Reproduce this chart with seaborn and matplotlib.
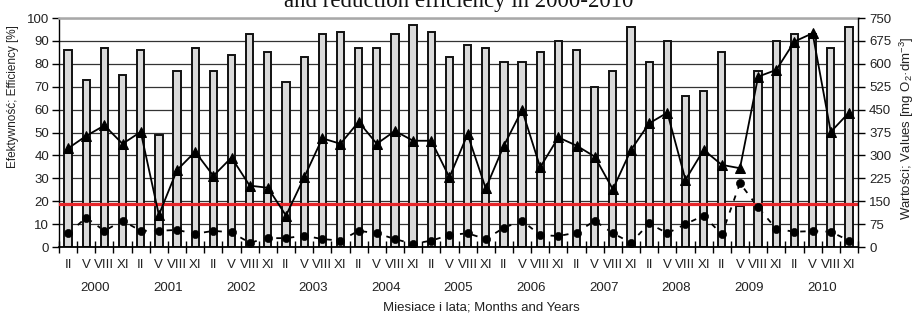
import numpy as np
import pandas as pd
import seaborn as sns
import matplotlib.pyplot as plt
from matplotlib import transforms

# data, one value per quarter (II, V, VIII, XI) 2000-2010
years = [str(y) for y in range(2000, 2011)]
months = ['II', 'V', 'VIII', 'XI']

# reduction efficiency [%] (bars, left axis)
efficiency = [86, 73, 87, 75, 86, 49, 77, 87, 77, 84, 93, 85,
              72, 83, 93, 94, 87, 87, 93, 97, 94, 83, 88, 87,
              81, 81, 85, 90, 86, 70, 77, 96, 81, 90, 66, 68,
              85, 18, 77, 90, 93, 93, 87, 96]

# inflow values [mg O2/dm3] (triangles, right axis)
inflow = [323, 364, 398, 338, 377, 105, 252, 312, 233, 293, 201, 194,
          103, 228, 356, 338, 410, 338, 380, 348, 348, 228, 369, 192,
          332, 449, 261, 359, 332, 296, 189, 318, 405, 440, 220, 318,
          269, 258, 558, 580, 673, 700, 377, 440]

# outflow values [mg O2/dm3] (circles, right axis)
outflow = [45, 96, 53, 86, 53, 53, 56, 43, 53, 48, 14, 29,
           29, 37, 26, 21, 53, 45, 26, 10, 21, 39, 45, 26,
           63, 86, 39, 36, 47, 86, 45, 14, 77, 45, 75, 103,
           41, 209, 130, 59, 50, 52, 50, 21]

limit = 140  # red line [mg O2/dm3]

slots = [y + ' ' + m for y in years for m in months]
pos = np.arange(len(slots))
df = pd.DataFrame({'slot': slots, 'eff': efficiency, 'pos': pos,
                   'inflow': inflow, 'outflow': outflow})

sns.set_theme(style='white')
plt.rcParams['font.family'] = ['Liberation Sans', 'DejaVu Sans']
plt.rcParams['mathtext.fontset'] = 'custom'
plt.rcParams['mathtext.rm'] = 'Liberation Sans'
plt.rcParams['mathtext.it'] = 'Liberation Sans:italic'
txt = '#222222'

W, H = 923, 314
fig = plt.figure(figsize=(W / 100, H / 100), dpi=100)
ax = fig.add_axes([59 / W, 1 - 247 / H, 799 / W, 229 / H])
ax2 = ax.twinx()
ax2.set_ylim(0, 750)

# dashed outflow line sits behind the bars
sns.lineplot(data=df, x='pos', y='outflow', ax=ax, color='black', lw=1.3,
             linestyle=(0, (3, 4)), transform=ax2.transData, zorder=1)

sns.barplot(data=df, x='slot', y='eff', ax=ax, color='#dadada', saturation=1,
            edgecolor='#111111', linewidth=1.4, width=0.4, errorbar=None, zorder=1.5)

ax.set_xlim(-0.5, len(slots) - 0.5)
ax.set_ylim(0, 100)
ax.set_yticks(np.arange(0, 101, 10))
ax.yaxis.grid(True, color='#333333', lw=0.9)
ax.xaxis.grid(False)
ax.set_axisbelow(True)

ax2.axhline(limit, color='#e8262a', lw=2.3, zorder=1)
sns.lineplot(data=df, x='pos', y='inflow', ax=ax2, color='black', lw=1.3,
             marker='^', markersize=7, markeredgecolor='black', zorder=3)
sns.scatterplot(data=df, x='pos', y='outflow', ax=ax2, color='black', s=34,
                edgecolor='black', zorder=4)
ax2.set_ylim(0, 750)
ax2.set_yticks(np.arange(0, 751, 75))
ax2.grid(False)

# axes styling
for s in ['left', 'bottom']:
    ax.spines[s].set_color('black')
ax.spines['left'].set_linewidth(1.0)
ax.spines['bottom'].set_linewidth(1.3)
ax.spines['right'].set_visible(False)
ax.spines['top'].set_color('#a8a8a8')
ax.spines['top'].set_linewidth(1.8)
for s in ['left', 'top', 'bottom']:
    ax2.spines[s].set_visible(False)
ax2.spines['right'].set_color('black')
ax2.spines['right'].set_linewidth(1.0)

ax.tick_params(axis='y', direction='out', length=5, width=1, color='black',
               labelsize=9.5, labelcolor=txt, pad=2, left=True)
ax2.tick_params(axis='y', direction='out', length=5, width=1, color='black',
                labelsize=9.5, labelcolor=txt, pad=3, right=True)

ax.set_xticks(np.arange(-0.5, len(slots), 1))
ax.set_xticklabels([])
ax.set_xticks(pos, minor=True)
ax.set_xticklabels(months * len(years), minor=True)
ax.tick_params(axis='x', which='major', direction='inout', length=8, width=1,
               color='black', bottom=True)
ax.tick_params(axis='x', which='minor', length=0, pad=9, labelsize=9.5,
               labelcolor=txt, bottom=True)

ax.set_xlabel('')
ax.set_ylabel('')
ax2.set_xlabel('')
ax2.set_ylabel('')

trans = transforms.blended_transform_factory(ax.transData, ax.transAxes)
for i, yr in enumerate(years):
    ax.text(4 * i + 1.5, (247 - 288) / 229, yr, transform=trans, ha='center',
            va='center', fontsize=9.5, color=txt)

fig.text(481 / W, 1 - 307 / H, 'Miesiace i lata; Months and Years', ha='center',
         va='center', fontsize=9.5, color=txt)
fig.text(13 / W, 1 - 97 / H, 'Efektywność; Efficiency [%]', rotation=90,
         ha='center', va='center', fontsize=8.5, color=txt)
fig.text(907 / W, 1 - 128 / H, 'Wartości; Values [mg O$_{\\mathrm{2}}$·dm$^{\\mathrm{-3}}$]',
         rotation=90, ha='center', va='center', fontsize=9.5, color=txt)

fig.text(459 / W, 1 - 6.7 / H, 'and reduction efficiency in 2000-2010',
         family='Liberation Serif', fontsize=16.5, ha='center', va='baseline',
         color='#111111')

fig.savefig('out.png', dpi=100)
